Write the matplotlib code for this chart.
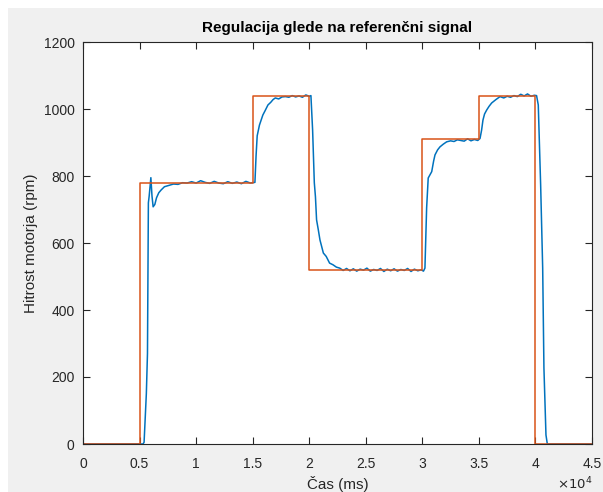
import matplotlib
matplotlib.use("Agg")
import matplotlib.pyplot as plt
from matplotlib.patches import Rectangle
from matplotlib.ticker import FuncFormatter

# reference signal (step changes), time in ms
ref_t = [0, 5000, 15000, 20000, 30000, 35000, 40000, 45000]
ref_v = [0, 780, 1040, 520, 910, 1040, 0, 0]

# measured motor speed (rpm)
meas_t = [0, 5300, 5400, 5600, 5700, 5780, 5850, 6000, 6100, 6200, 6350, 6500,
          6700, 6900, 7200, 7600, 8000, 8400, 8800, 9200, 9600, 10000, 10400,
          10800, 11200, 11600, 12000, 12400, 12800, 13200, 13600, 14000, 14400,
          14800, 15200, 15300, 15400, 15600, 15900, 16100, 16350, 16600, 16800,
          17000, 17300, 17600, 17900, 18200, 18500, 18800, 19100, 19400, 19700,
          20000, 20150, 20300, 20450, 20550, 20650, 20800, 20950, 21100, 21250,
          21500, 21800, 22100, 22400, 22700, 23000, 23300, 23600, 23900, 24200,
          24500, 24800, 25100, 25400, 25700, 26000, 26300, 26600, 26900, 27200,
          27500, 27800, 28100, 28400, 28700, 29000, 29300, 29600, 29900, 30100,
          30230, 30380, 30520, 30700, 30830, 31000, 31120, 31350, 31560, 31850,
          32150, 32500, 32800, 33100, 33400, 33700, 34000, 34300, 34600, 34900,
          35100, 35240, 35360, 35500, 35690, 35900, 36130, 36500, 36870, 37200,
          37500, 37800, 38100, 38400, 38700, 39000, 39300, 39600, 39900, 40100,
          40250, 40460, 40640, 40750, 40930, 41050, 45000]
meas_v = [0, 0, 5, 150, 270, 720, 740, 795, 740, 708, 715, 735,
          750, 758, 768, 772, 776, 775, 780, 779, 783, 779, 786,
          781, 778, 784, 779, 777, 783, 778, 782, 777, 784,
          779, 781, 860, 920, 952, 982, 995, 1012, 1020, 1028,
          1033, 1030, 1036, 1037, 1035, 1040, 1036, 1039, 1035, 1042,
          1038, 1040, 937, 780, 738, 669, 640, 609, 590, 570,
          560, 540, 535, 528, 525, 518, 524, 517, 523, 516,
          522, 519, 525, 516, 521, 518, 524, 515, 522, 517,
          523, 516, 521, 518, 524, 515, 522, 517, 520, 516,
          525, 705, 794, 805, 813, 845, 863, 878, 887, 895,
          902, 905, 903, 908, 906, 904, 911, 905, 909, 906,
          912, 937, 967, 985, 997, 1008, 1018, 1028, 1037, 1033,
          1038, 1035, 1040, 1037, 1044, 1039, 1045, 1038, 1041, 1040,
          1012, 773, 525, 227, 27, 0, 0]

x_ticks = [0, 5000, 10000, 15000, 20000, 25000, 30000, 35000, 40000, 45000]
y_ticks = [0, 200, 400, 600, 800, 1000, 1200]

plt.rcParams["font.family"] = ["Liberation Sans", "DejaVu Sans"]
dark = "#262626"

fig = plt.figure(figsize=(6.03, 4.92), dpi=100, facecolor="white")
# matlab-style grey figure background, slight white margin top/left
fig.patches.append(Rectangle((8 / 603, 0), 1, 1 - 8 / 492, transform=fig.transFigure,
                             facecolor="#f0f0f0", edgecolor="none", zorder=-10))
ax = fig.add_axes([83 / 603, 48 / 492, 509 / 603, 402 / 492])
ax.set_facecolor("white")

ax.plot(meas_t, meas_v, color="#0072BD", lw=1.1)
ax.step(ref_t, ref_v, where="post", color="#D95319", lw=1.1)

ax.set_xlim(0, 45000)
ax.set_ylim(0, 1200)
ax.set_xticks(x_ticks)
ax.set_yticks(y_ticks)
ax.xaxis.set_major_formatter(FuncFormatter(lambda v, p: f"{v / 1e4:g}"))
ax.tick_params(direction="in", length=5, width=0.8, top=True, right=True,
               labelsize=10, colors=dark)
ax.tick_params(axis="x", pad=9)
ax.tick_params(axis="y", pad=6)
for s in ax.spines.values():
    s.set_color(dark)
    s.set_linewidth(0.8)

ax.set_title("Regulacija glede na referenčni signal", fontsize=11,
             fontweight="bold", color="black", pad=7)
ax.set_xlabel("Čas (ms)", fontsize=11, color=dark, labelpad=4)
ax.set_ylabel("Hitrost motorja (rpm)", fontsize=11, color=dark, labelpad=4)
ax.text(1.0, -0.08, r"$\times10^4$", transform=ax.transAxes, ha="right",
        va="top", fontsize=9.5, color=dark)

fig.savefig("out.png", dpi=100, facecolor=fig.get_facecolor())
